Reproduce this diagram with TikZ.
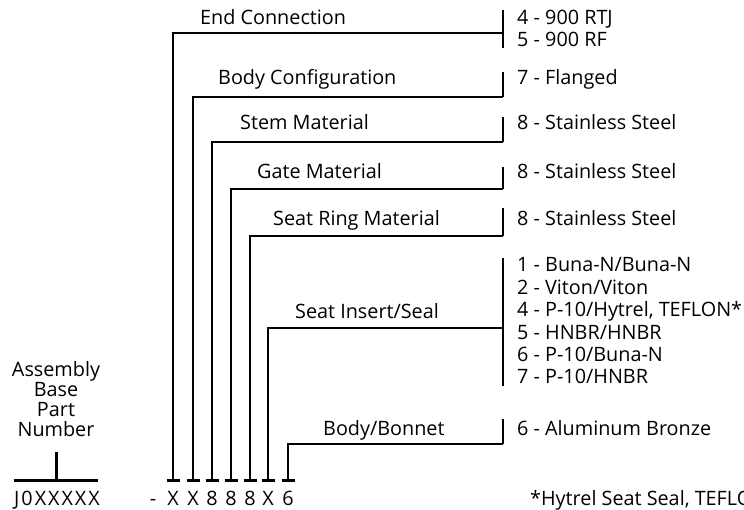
\documentclass[tikz,border=0pt]{standalone}
\usepackage{fontspec}
\setmainfont{Open Sans}
\usetikzlibrary{positioning}

\begin{document}
\begin{tikzpicture}[
  x=1pt, y=-1pt,
  font=\fontsize{19.8}{22.4}\selectfont,
  lbl/.style={anchor=base west, inner sep=0pt},
  opt/.style={anchor=base west, inner sep=0pt, align=left},
  code/.style={anchor=base, inner sep=0pt},
  lead/.style={line width=1.7pt},
  brk/.style={line width=2.6pt},
  tick/.style={line width=3pt}
]
\useasboundingbox (0,0) rectangle (744,510);

\node[lbl] (ec) at (200,25)  {End Connection};
\node[lbl] (bc) at (218,85)  {Body Configuration};
\node[lbl] (sm) at (240,130) {Stem Material};
\node[lbl] (gm) at (257,179) {Gate Material};
\node[lbl] (sr) at (273,226) {Seat Ring Material};
\node[lbl] (si) at (295,319) {Seat Insert/Seal};
\node[lbl] (bb) at (323,435) {Body/Bonnet};

\node[opt] (oec) at (517,47)  {4 - 900 RTJ\\5 - 900 RF};
\node[opt] (obc) at (517,85)  {7 - Flanged};
\node[opt] (osm) at (517,130) {8 - Stainless Steel};
\node[opt] (ogm) at (517,179) {8 - Stainless Steel};
\node[opt] (osr) at (517,226) {8 - Stainless Steel};
\node[opt] (osi) at (517,384) {1 - Buna-N/Buna-N\\2 - Viton/Viton\\4 - P-10/Hytrel, TEFLON*\\5 - HNBR/HNBR\\6 - P-10/Buna-N\\7 - P-10/HNBR};
\node[opt] (obb) at (517,435) {6 - Aluminum Bronze};

\node[code, align=center, anchor=south, font=\fontsize{19.8}{20}\selectfont] (abp) at (56,437) {Assembly\\Base\\Part\\Number};
\node[code] (base) at (57,505) {\addfontfeatures{LetterSpace=10}J0XXXXX};
\coordinate (bl) at (14,480);
\coordinate (br) at (98,480);
\coordinate (bt) at (56,452);
\draw[tick] (bl) -- (br);
\draw[tick] (bt) -- (bl -| bt);

\node[code] (dash) at (153,505) {-};
\foreach \x/\c [count=\i] in {173/X,193/X,212/8,231/8,250/8,268/X,288/6} {
  \node[code] (k\i) at (\x,505) {\c};
  \coordinate (t\i) at (\x,480);
  \draw[tick] ([xshift=-6.5pt]t\i) -- ([xshift=6.5pt]t\i);
}

\foreach \i/\y/\top/\bot in {1/33/10/48, 2/97/72/97, 3/142/117/142, 4/189/167/189, 5/236/208/236, 6/328/258/386, 7/444/419/444} {
  \coordinate (h\i) at (503,\y);
  \coordinate (bt\i) at (503,\top);
  \coordinate (bb\i) at (503,\bot);
  \draw[lead] (t\i) |- (h\i);
  \draw[brk] (bt\i) -- (bb\i);
}

\node[lbl] (note) at (530,505) {*Hytrel Seat Seal, TEFLON};
\end{tikzpicture}
\end{document}
